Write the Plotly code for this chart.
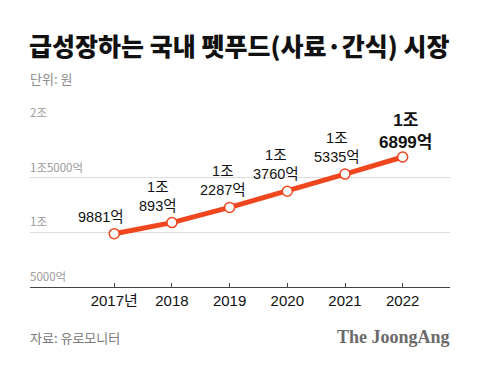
import plotly.graph_objects as go

years = [2017, 2018, 2019, 2020, 2021, 2022]
year_labels = ["2017년", "2018", "2019", "2020", "2021", "2022"]
values_eok = [9881, 10893, 12287, 13760, 15335, 16899]  # 억 원
ytick_vals = [5000, 10000, 15000, 20000]
ytick_text = ["5000억", "1조", "1조5000억", "2조"]

def fmt(v):
    jo, eok = divmod(v, 10000)
    if jo == 0:
        return f"{eok}억"
    return f"{jo}조<br>{eok}억"

FONT = "Noto Sans CJK KR"
NUMFONT = "Liberation Sans, Noto Sans CJK KR"
ORANGE = "#f0461e"

# page body has an 8px margin; size the figure so it fits the 480x365 window
W, H = 472, 357
L, T = 22, 115
R, B = 30, 78

fig = go.Figure()
fig.add_trace(go.Scatter(
    x=years, y=values_eok, mode="lines+markers",
    line=dict(color=ORANGE, width=5),
    marker=dict(size=10, color="white", line=dict(color=ORANGE, width=1.5)),
    hoverinfo="skip", showlegend=False,
))

label_xshift = [-13, -14, -7, -11, -8, 3]
for i, (x, v) in enumerate(zip(years, values_eok)):
    last = i == len(years) - 1
    fig.add_annotation(
        x=x, y=v, xref="x", yref="y", text=(f"<b>{fmt(v)}</b>" if last else fmt(v)),
        showarrow=False, xanchor="center", yanchor="bottom", yshift=3 if last else 7,
        xshift=label_xshift[i],
        font=dict(family=NUMFONT, size=17 if last else 14.5, color="#111"),
    )
for v, t in zip(ytick_vals, ytick_text):
    fig.add_annotation(
        x=0, y=v, xref="paper", yref="y", text=t, showarrow=False,
        xanchor="left", yanchor="bottom", yshift=1, xshift=-2,
        font=dict(family=FONT, size=11.5, color="#999"),
    )

fig.add_annotation(x=0, y=1, xref="paper", yref="paper", xanchor="left", yanchor="middle",
                   xshift=-3, yshift=123 - 45, showarrow=False,
                   text="급성장하는 국내 펫푸드(사료·간식) 시장",
                   font=dict(family=FONT, size=25, color="#111", weight=900))
fig.add_annotation(x=0, y=1, xref="paper", yref="paper", xanchor="left", yanchor="middle",
                   xshift=-2, yshift=123 - 78, showarrow=False, text="단위: 원",
                   font=dict(family=FONT, size=13, color="#8a8a8a"))
fig.add_annotation(x=0, y=0, xref="paper", yref="paper", xanchor="left", yanchor="middle",
                   xshift=-2, yshift=-(337 - 287), showarrow=False, text="자료: 유로모니터",
                   font=dict(family=FONT, size=13, color="#777"))
fig.add_annotation(x=1, y=0, xref="paper", yref="paper", xanchor="right", yanchor="middle",
                   xshift=2, yshift=-(337 - 287), showarrow=False, text="<b>The JoongAng</b>",
                   font=dict(family="Liberation Serif", size=18, color="#6a6a6a"))

fig.update_layout(
    width=W, height=H,
    margin=dict(l=L, r=R, t=T, b=B, pad=0),
    paper_bgcolor="white", plot_bgcolor="white",
    xaxis=dict(
        range=[2015.54, 2022.82], tickvals=years, ticktext=year_labels,
        showgrid=False, zeroline=False, showline=True, linecolor="#444", linewidth=1,
        ticks="inside", ticklen=4, tickcolor="#444",
        tickfont=dict(family=NUMFONT, size=15, color="#111"),
    ),
    yaxis=dict(
        range=[5000, 20010], tickvals=ytick_vals, showticklabels=False,
        showgrid=True, gridcolor="#dcdcdc", gridwidth=1, zeroline=False,
    ),
)

fig.write_html("out.html")
